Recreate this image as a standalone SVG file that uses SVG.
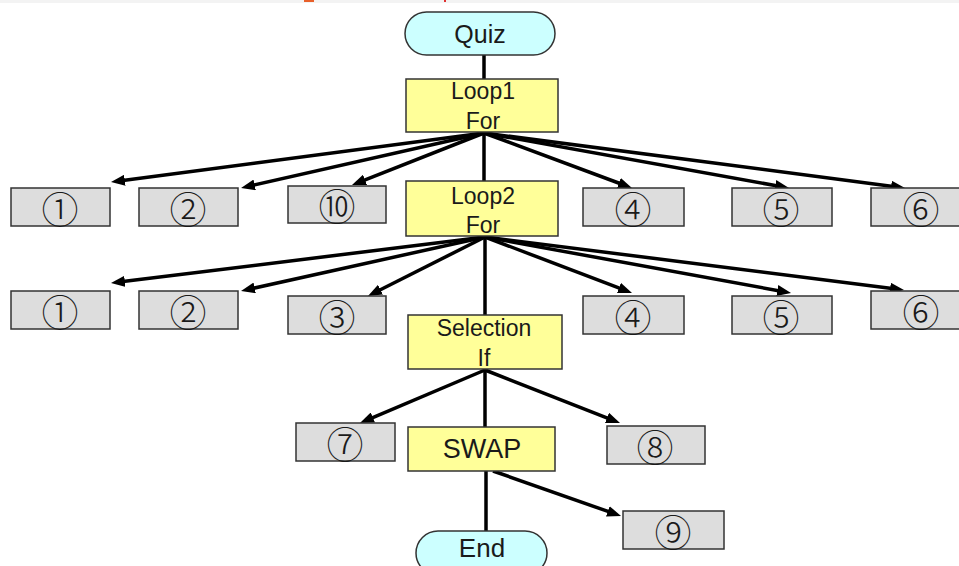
<svg xmlns="http://www.w3.org/2000/svg" width="959" height="566" viewBox="0 0 959 566">
  <style>
    .term { fill: #ccffff; stroke: #333333; stroke-width: 1.5; }
    .step { fill: #ffff99; stroke: #333333; stroke-width: 1.5; }
    .item { fill: #dddddd; stroke: #333333; stroke-width: 1.5; }
    .lbl { font-family: "Liberation Sans", Arial, sans-serif; fill: #1a1a1a; text-anchor: middle; }
    .num { font-family: "Noto Sans CJK JP", "DejaVu Sans", sans-serif; fill: #1a1a1a; text-anchor: middle; dominant-baseline: central; font-size: 37px; font-weight: 300; }
    .link { fill: none; stroke: #000000; stroke-width: 3.5; }
    .arrow { marker-end: url(#head); }
  </style>
  <defs>
    <marker id="head" markerUnits="userSpaceOnUse" markerWidth="14" markerHeight="11" refX="4" refY="5.5" orient="auto">
      <path d="M0,0 L14,5.5 L0,11 z" fill="#000000"/>
    </marker>
  </defs>

  <rect x="0" y="0" width="959" height="566" fill="#ffffff"/>
  <!-- page strip along the top edge -->
  <rect x="0" y="0" width="959" height="3" fill="#f3f3f3"/>
  <rect x="304" y="0" width="10" height="2" fill="#e8602a"/>
  <rect x="444" y="0" width="2" height="2" fill="#e03030"/>

  <g id="connectors">
    <!-- main spine -->
    <line class="link" x1="484" y1="55" x2="484" y2="79"/>
    <line class="link" x1="484" y1="132" x2="484" y2="182"/>
    <line class="link" x1="485" y1="236" x2="485" y2="315"/>
    <line class="link" x1="485" y1="369" x2="485" y2="427"/>
    <line class="link" x1="486" y1="471" x2="486" y2="531"/>
    <!-- Loop1 fan-out -->
    <line class="link arrow" x1="484" y1="133" x2="120.9" y2="180.7"/>
    <line class="link arrow" x1="484" y1="133" x2="250.8" y2="185.8"/>
    <line class="link arrow" x1="484" y1="133" x2="361.3" y2="181.3"/>
    <line class="link arrow" x1="484" y1="133" x2="622.6" y2="184.5"/>
    <line class="link arrow" x1="484" y1="133" x2="779.2" y2="186.2"/>
    <line class="link arrow" x1="484" y1="133" x2="895.1" y2="186.7"/>
    <!-- Loop2 fan-out -->
    <line class="link arrow" x1="485" y1="237" x2="120.9" y2="281.8"/>
    <line class="link arrow" x1="485" y1="237" x2="250.8" y2="288.8"/>
    <line class="link arrow" x1="485" y1="237" x2="376.9" y2="291.5"/>
    <line class="link arrow" x1="485" y1="237" x2="622.7" y2="289.4"/>
    <line class="link arrow" x1="485" y1="237" x2="781.2" y2="291.2"/>
    <line class="link arrow" x1="485" y1="237" x2="894.1" y2="288.7"/>
    <!-- Selection branches -->
    <line class="link arrow" x1="485" y1="370" x2="369.2" y2="419.1"/>
    <line class="link arrow" x1="485" y1="370" x2="610.7" y2="419.3"/>
    <!-- SWAP branch -->
    <line class="link arrow" x1="493" y1="471" x2="611.6" y2="512.7"/>
  </g>

  <g id="quiz">
    <rect class="term" x="405" y="12" width="150" height="43" rx="21.5"/>
    <text class="lbl" x="480" y="43" font-size="25">Quiz</text>
  </g>
  <g id="loop1">
    <rect class="step" x="406" y="79" width="152" height="53"/>
    <text class="lbl" x="483" y="99" font-size="23">Loop1</text>
    <text class="lbl" x="483" y="129" font-size="23">For</text>
  </g>

  <g id="r1-1">
    <rect class="item" x="11" y="188" width="99" height="38"/>
    <text class="num" x="60" y="208">①</text>
  </g>
  <g id="r1-2">
    <rect class="item" x="139" y="188" width="99" height="38"/>
    <text class="num" x="188" y="208">②</text>
  </g>
  <g id="r1-10">
    <rect class="item" x="288" y="186" width="98" height="37"/>
    <text class="num" x="337" y="205">⑩</text>
  </g>
  <g id="loop2">
    <rect class="step" x="406" y="181" width="152" height="55"/>
    <text class="lbl" x="483" y="204" font-size="23">Loop2</text>
    <text class="lbl" x="483" y="233" font-size="23">For</text>
  </g>
  <g id="r1-4">
    <rect class="item" x="583" y="188" width="101" height="38"/>
    <text class="num" x="633" y="208">④</text>
  </g>
  <g id="r1-5">
    <rect class="item" x="732" y="188" width="100" height="38"/>
    <text class="num" x="781" y="208">⑤</text>
  </g>
  <g id="r1-6">
    <rect class="item" x="871" y="188" width="100" height="38"/>
    <text class="num" x="921" y="208">⑥</text>
  </g>

  <g id="r2-1">
    <rect class="item" x="11" y="291" width="99" height="38"/>
    <text class="num" x="60" y="311">①</text>
  </g>
  <g id="r2-2">
    <rect class="item" x="139" y="291" width="99" height="38"/>
    <text class="num" x="188" y="311">②</text>
  </g>
  <g id="r2-3">
    <rect class="item" x="288" y="296" width="98" height="38"/>
    <text class="num" x="337" y="316">③</text>
  </g>
  <g id="selection">
    <rect class="step" x="408" y="315" width="154" height="54"/>
    <text class="lbl" x="484" y="336" font-size="23">Selection</text>
    <text class="lbl" x="484" y="366" font-size="23">If</text>
  </g>
  <g id="r2-4">
    <rect class="item" x="583" y="296" width="101" height="38"/>
    <text class="num" x="633" y="316">④</text>
  </g>
  <g id="r2-5">
    <rect class="item" x="732" y="296" width="100" height="38"/>
    <text class="num" x="781" y="316">⑤</text>
  </g>
  <g id="r2-6">
    <rect class="item" x="871" y="291" width="100" height="38"/>
    <text class="num" x="921" y="311">⑥</text>
  </g>

  <g id="n7">
    <rect class="item" x="296" y="423" width="99" height="38"/>
    <text class="num" x="345" y="443">⑦</text>
  </g>
  <g id="swap">
    <rect class="step" x="408" y="427" width="147" height="44"/>
    <text class="lbl" x="482" y="458" font-size="27">SWAP</text>
  </g>
  <g id="n8">
    <rect class="item" x="607" y="426" width="98" height="38"/>
    <text class="num" x="655" y="446">⑧</text>
  </g>
  <g id="n9">
    <rect class="item" x="623" y="511" width="101" height="38"/>
    <text class="num" x="673" y="531">⑨</text>
  </g>
  <g id="end">
    <rect class="term" x="416" y="531" width="131" height="44" rx="22"/>
    <text class="lbl" x="482" y="557" font-size="26">End</text>
  </g>
</svg>
